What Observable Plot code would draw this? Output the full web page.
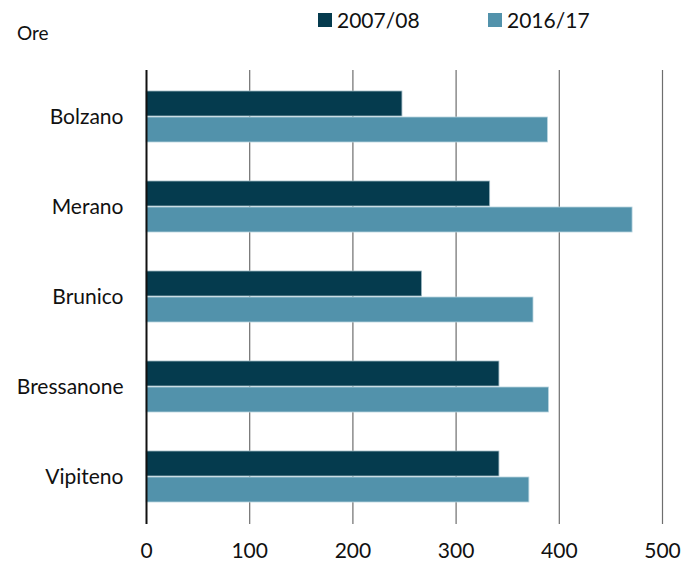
<!DOCTYPE html>
<html>
<head>
<meta charset="utf-8">
<script src="https://cdn.jsdelivr.net/npm/d3@7"></script>
<script src="https://cdn.jsdelivr.net/npm/@observablehq/plot@0.6"></script>
<style>
  body { margin: 0; background: #fff; font-family: Lato, "Liberation Sans", Arial, sans-serif; }
  #wrap { position: relative; width: 682px; height: 565px; overflow: hidden; }
  #unit { position: absolute; left: 17px; top: 21px; font-size: 19px; color: #111; }
  .leg { position: absolute; top: 7px; font-size: 21px; color: #111; display: flex; align-items: center; }
  .sw { width: 14px; height: 14px; margin-right: 5px; display: inline-block; }
  svg { position: absolute; left: 0; top: 0; }
</style>
</head>
<body>
<div id="wrap">
  <div id="unit">Ore</div>
  <div class="leg" style="left:318px"><span class="sw" style="background:#053b4e"></span>2007/08</div>
  <div class="leg" style="left:488px"><span class="sw" style="background:#5292ab"></span>2016/17</div>
</div>
<script>
const categories = ["Bolzano", "Merano", "Brunico", "Bressanone", "Vipiteno"];
const series = ["2007/08", "2016/17"];
const values2007 = [248, 333, 267, 342, 342];
const values2016 = [389, 471, 375, 390, 371];
const ticks = [0, 100, 200, 300, 400, 500];
const colors = ["#053b4e", "#5292ab"];

const data = categories.flatMap((c, i) => [
  {category: c, series: series[0], value: values2007[i]},
  {category: c, series: series[1], value: values2016[i]}
]);

const half = 26;
const chart = Plot.plot({
  width: 682,
  height: 565,
  marginTop: 70,
  marginBottom: 41,
  marginLeft: 146,
  marginRight: 20,
  style: {fontFamily: "Lato, Liberation Sans, Arial, sans-serif", fontSize: "21px", color: "#111", background: "transparent"},
  x: {domain: [0, 500], ticks: ticks, label: null},
  y: {domain: categories, paddingInner: 0.43, paddingOuter: 0.215, label: null},
  color: {domain: series, range: colors},
  marks: [
    Plot.ruleX(ticks.filter(t => t > 0), {stroke: "#6e6e6e", strokeWidth: 1.2}),
    Plot.barX(data.filter(d => d.series === series[0]), {x: "value", y: "category", fill: "series", stroke: "#9fb9c3", strokeWidth: 0.8, insetBottom: half}),
    Plot.barX(data.filter(d => d.series === series[1]), {x: "value", y: "category", fill: "series", stroke: "#b8d4df", strokeWidth: 0.8, insetTop: half}),
    Plot.ruleX([0], {stroke: "#111", strokeWidth: 2}),
    Plot.axisX({ticks: ticks, tickSize: 0, tickPadding: 19, fontSize: 21, label: null}),
    Plot.axisY({tickSize: 0, tickPadding: 23, fontSize: 21, label: null})
  ]
});
document.getElementById("wrap").appendChild(chart);
</script>
</body>
</html>
